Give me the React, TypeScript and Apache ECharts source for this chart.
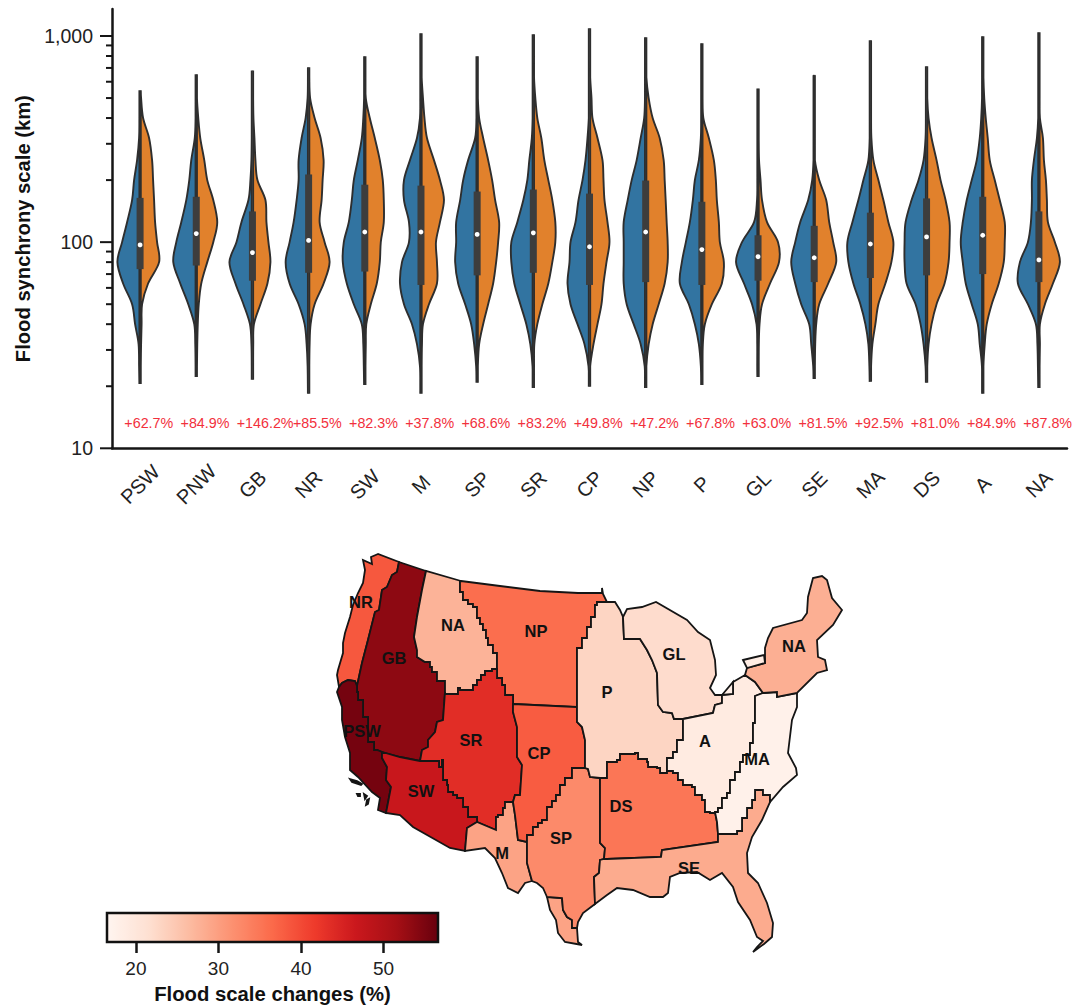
import React, { useEffect, useRef } from "react";
import * as echarts from "echarts";

const FONT = "'Liberation Sans', Arial, sans-serif";

// ---------- violin data ----------
const categories = ["PSW","PNW","GB","NR","SW","M","SP","SR","CP","NP","P","GL","SE","MA","DS","A","NA"];
const changes = ["+62.7%","+84.9%","+146.2%","+85.5%","+82.3%","+37.8%","+68.6%","+83.2%","+49.8%","+47.2%","+67.8%","+63.0%","+81.5%","+92.5%","+81.0%","+84.9%","+87.8%"];
const whiskerLow = [20.5,22.2,21.5,18.4,20.3,18.4,20.8,19.6,19.9,19.6,20.3,22.2,21.7,21,20.8,18.4,19.6];
const whiskerHigh = [545,652,681,705,797,1030,797,1019,1089,986,922,557,631,953,713,997,1042];
const q1 = [74,77,65,71,72,62,69,71,62,64,62,65,64,67,69,70,64];
const q3 = [164,166,141,213,190,188,176,180,172,199,157,108,120,139,163,166,141];
const medians = [97,110,89,102,112,112,109,111,95,112,92,85,84,98,106,108,82];
const densityLevels = [25,32,40,50,63,80,100,125,160,200,250,320,400,500,630,800];
const PSW_L=[1,1.5,5,8,17,22.7,18,13,8,6,3,1,0,0,0,0];
const PSW_R=[.5,1,1.5,2,8,19,17,15,14,13,12,9,3,1,0,0];
const PNW_L=[.5,1,2,8,16,23,20,15,10,7,5,1.5,.5,0,0,0];
const PNW_R=[.5,1,1.5,2.5,5,11,17,21,17,11,8,4,2,.5,0,0];
const GB_L=[.5,1,2.5,9,17,23,16,11,4,2,1,.5,0,0,0,0];
const GB_R=[.5,.8,1.5,8,15,18,16,14,13,5,3,2,1,.3,0,0];
const NR_L=[1,2,4,10,19,23,19,15,12,10,10,7,3,1,0,0];
const NR_R=[.5,1,2,6,15,21,16,11,13,14,15,12,6,1.5,0,0];
const SW_L=[1,1.5,3,11,18,22,21,16,13,11,7,3,1.5,.5,0,0];
const SW_R=[.5,1,1.5,6,12,15,16,19,19,18,15,10,5,1,.3,0];
const M_L=[1,4,9,17,21,19,12,12,17,17,11,4,1,.5,0,0];
const M_R=[.5,1,2,8,16,16,15,19,23,19,13,6,3.5,2,.5,0];
const SP_L=[1,3,6,12,19,22,21,21,17,14,9,2,.5,0,0,0];
const SP_R=[.5,2,6,11,16,19,21,22,18,15,11,6,2,.5,0,0];
const SR_L=[.8,3,7,13,19,22,22,16,10,6,4,1.5,.5,0,0,0];
const SR_R=[.5,1,4,9,15,19,22,22,19,15,11,8,4,2,.5,0];
const CP_L=[1,5,12,19,22,20,19,14,11,7,4,2,.7,.3,0,0];
const CP_R=[.5,4,8,12,14,17,20,18,15,14,13,8,3,2,.5,0];
const NP_L=[1,5,12,19,22,22,22,22,18,14,9,5,1.5,.5,0,0];
const NP_R=[.5,3,7,13,19,22,22,21,20,19,18,14,7,3,.7,0];
const P_L=[1,3,7,13,22,20,16,12,9,7,3,1,.5,0,0,0];
const P_R=[.5,1,3,10,20,22,18,17,15,14,12,7,1.5,.3,0,0];
const GL_L=[.8,.8,1.5,6,14,22,16,4,1,.5,.3,0,0,0,0,0];
const GL_R=[.5,.8,1.5,4,12,21,20,9,4,2.5,1,.3,0,0,0,0];
const SE_L=[1,3,5,13,19,23,19,14,6,2,.7,.3,0,0,0,0];
const SE_R=[.5,1,2,5,14,22,19,15,12,5,.7,.3,0,0,0,0];
const MA_L=[1,2,5,10,17,22,23,18,12,7,2,.7,.5,.5,0,0];
const MA_R=[.5,2,5,8,15,21,23,18,13,8,3,1,.5,0,0,0];
const DS_L=[1,3,6,11,20,22,22,21,15,8,3,1,.5,0,0,0];
const DS_R=[.5,2,5,10,18,22,23,23,19,14,10,5,2,.7,.3,0];
const A_L=[.8,3,5,11,17,20,22,20,16,11,6,3,1.5,.7,.3,0];
const A_R=[.5,2,4,9,16,21,22,22,17,12,7,5,3,1.5,.5,0];
const NA_L=[1,1.5,3,11,21,19,11,8,7,7,5,2,.7,.5,0,0];
const NA_R=[.5,1,1,6,14,21,16,9,8,7,5,4,1,.3,0,0];
const leftDensity = [PSW_L,PNW_L,GB_L,NR_L,SW_L,M_L,SP_L,SR_L,CP_L,NP_L,P_L,GL_L,SE_L,MA_L,DS_L,A_L,NA_L];
const rightDensity = [PSW_R,PNW_R,GB_R,NR_R,SW_R,M_R,SP_R,SR_R,CP_R,NP_R,P_R,GL_R,SE_R,MA_R,DS_R,A_R,NA_R];
const labelLevel = 13.3;
const majorTicks = [10,100,1000];
const minorTicks = [20,30,40,50,60,70,80,90,200,300,400,500,600,700,800,900];

// ---------- map data ----------
type Pt = number[];
const rev = (a: Pt[]) => [...a].reverse();
// county-grid borders are stepped: every digitised diagonal becomes one stair
const stair = (a: Pt[]) => a.flatMap((p, i) => (i === 0 ? [p] : [[p[0], a[i - 1][1]], p]));
const COAST_NR=[[378,554],[371,557],[372,564],[363,560],[365,570],[363,583],[358,593],[353,605],[350,617],[345,633],[343,643],[343,653],[338,670],[337,675],[339,687]];
const NR_PSW=[[339,687],[342,683],[348,680],[355,681],[357,686]];
const NR_GB=[[357,686],[362,663],[368,640],[375,612],[379,610],[382,590],[387,587],[392,575],[397,572],[399,562]];
const GB_NA=[[426,571],[422,590],[417,617],[414,637],[417,650],[417,657],...stair([[425,662],[430,667],[432,672],[437,675],[437,681],[445,692]])];
const GB_SR=[[445,692],[443,720],[437,722],[435,732],[428,740],[428,747],[422,750],[420,761]];
const GB_PSW=stair([[377,750],[374,742],[368,728],[368,717],[363,710],[363,700],[358,692],[357,686]]);
const PSW_COAST=[[339,687],[337,692],[342,707],[342,720],[345,737],[350,753],[350,770],[358,777],[372,792],[380,798],[378,810],[386,813]];
const PSW_SW=[[386,813],[391,787],[386,780],[387,767],[382,758],[382,752]];
const NA_NP=stair([[461,581],[460,592],[463,600],[468,604],[473,607],[477,618],[480,624],[483,630],[486,638],[488,645],[493,653],[497,665],[497,669]]);
const NA_SR=stair([[497,669],[492,671],[485,675],[481,680],[477,685],[473,690],[460,688],[458,694],[445,692]]);
const SR_NP=stair([[497,669],[497,678],[502,685],[505,695],[513,698],[513,704]]);
const NORTH_NP=[[461,581],[500,586],[540,591],[578,593],[602,593],[602,588],[603,594],[607,602]];
const NP_P=stair([[607,602],[597,605],[595,617],[591,627],[587,638],[582,648],[577,663],[577,707]]);
const SR_CP=[[513,704],[513,712],[517,727],[517,757],[522,765],[520,795],[515,795],[513,802]];
const SR_M=stair([[513,802],[505,808],[503,815],[498,817],[496,830]]);
const SW_SR=stair([[420,761],[439,767],[442,760],[443,780],[447,785],[448,792],[453,795],[457,798],[463,807],[468,817],[477,822]]);
const CP_M=[[513,802],[515,815],[518,840],[527,842]];
const M_SP=[[527,842],[527,863],[532,881]];
const M_COAST=[[532,881],[525,883],[518,893],[508,888],[502,873],[495,858],[485,848],[465,851]];
const CP_SP=stair([[585,768],[577,768],[572,778],[565,785],[560,795],[556,801],[552,807],[547,820],[542,823],[538,827],[533,835],[527,842]]);
const SP_DS=[[600,778],[600,843],[605,848],[604,859],[600,860]];
const SP_SE=[[600,860],[599,873],[594,877],[595,904]];
const SP_COAST=[[595,904],[583,913],[578,922],[577,928],[572,928],[572,920],[567,917],[563,910],[562,898],[547,897],[543,888],[537,883],[532,881]];
const P_GL=[[623,617],[624,639],[640,639],[647,650],[652,660],[657,673],[658,705],[663,712],[672,713],[674,719],[683,719]];
const P_A=stair([[683,719],[683,740],[677,752],[673,758],[667,771]]);
const DS_TOP=stair([[600,778],[607,762],[617,760],[620,754],[635,753],[638,759],[647,762],[648,767],[657,768],[660,773],[667,771]]);
const DS_A=stair([[667,771],[673,773],[678,780],[683,785],[692,787],[695,795],[702,800],[705,812],[710,813],[715,812]]);
const DS_MA=[[715,812],[717,822],[718,834]];
const SE_MA=stair([[718,834],[737,831],[742,818],[747,808],[752,800],[755,790],[763,795],[770,802]]);
const SE_COAST=[[770,802],[762,820],[752,837],[747,853],[748,873],[758,883],[767,903],[773,923],[772,937],[764,944],[753,952],[757,947],[763,941],[757,937],[750,920],[738,902],[733,887],[722,873],[710,880],[697,872],[680,873],[670,877],[668,893],[663,897],[650,897],[633,890],[617,888],[607,895],[595,904]];
const A_MA=stair([[715,812],[718,808],[722,798],[727,793],[730,780],[735,772],[740,762],[743,755],[750,743],[753,723],[755,717],[755,696]]);
const MA_COAST=[[797,693],[797,707],[792,720],[788,753],[796,768],[797,775],[783,787],[770,802]];

const NR_RING=[...COAST_NR,...NR_PSW,...NR_GB];
const GB_RING=[[399,562],...GB_NA,...GB_SR,[400,757],[382,752],...GB_PSW,...NR_GB];
const PSW_RING=[...NR_PSW,...rev(GB_PSW),...rev(PSW_SW),...rev(PSW_COAST)];
const NAW_RING=[...NA_NP,...NA_SR,...rev(GB_NA)];
const NP_RING=[...NORTH_NP,...NP_P,[513,704],...rev(SR_NP),...rev(NA_NP)];
const SR_RING=[...rev(NA_SR),...SR_NP,...SR_CP,...SR_M,...rev(SW_SR),...rev(GB_SR)];
const SW_RING=[[382,752],[400,757],...SW_SR,[467,828],[465,851],[450,848],[413,827],[400,815],...PSW_SW];
const M_RING=[[467,828],[477,822],...rev(SR_M),...CP_M,...M_SP,...M_COAST];
const MTIP_RING=[[547,897],[562,898],[563,910],[567,917],[572,920],[572,928],[577,928],[578,942],[582,945],[565,942],[558,933],[556,920],[550,910]];
const CP_RING=[[513,704],[577,707],[577,722],[582,727],[585,740],...CP_SP,...rev(CP_M),...rev(SR_CP)];
const SP_RING=[...rev(CP_SP),[588,769],[590,777],...SP_DS,...SP_SE,...SP_COAST,...rev(M_SP)];
const P_RING=[[607,602],[615,602],[620,610],...P_GL,...P_A,...rev(DS_TOP),[590,777],[588,769],[585,768],[585,740],[582,727],[577,722],...rev(NP_P)];
const GL_RING=[[623,617],[627,609],[642,607],[656,602],[687,620],[698,632],[710,640],[715,660],[716,675],[710,688],[715,695],[722,695],[722,703],[715,705],[713,713],...rev(P_GL)];
const DS_RING=[...DS_TOP,...DS_A,...DS_MA,[718,842],[662,850],[661,857],[607,859],[604,859],[605,848],[600,843]];
const SE_RING=[[600,860],[604,859],[607,859],[661,857],[662,850],[718,842],...SE_MA,...SE_COAST,...rev(SP_SE)];
const A_RING=[[683,719],[713,713],[715,705],[722,703],[722,695],[733,694],[733,682],[745,675],[755,682],[763,693],...rev(A_MA),...rev(DS_A),...rev(P_A)];
const MA_RING=[[763,693],[777,692],[777,697],...MA_COAST,...rev(SE_MA),...rev(DS_MA),...A_MA];
const NAE_RING=[[745,675],[755,682],[763,693],[777,692],[777,697],[797,693],[817,673],[827,670],[825,660],[818,657],[817,640],[833,625],[842,610],[832,598],[827,580],[822,576],[813,578],[808,597],[807,613],[802,620],[773,628],[768,638],[765,648],[765,663],[747,668]];
const LAKE_E=[[722,695],[733,682],[733,694]];
const LAKE_O=[[743,660],[764,655],[765,663],[747,668]];
const ISLE_1=[[350,779],[357,781],[362,784],[361,785],[352,782]];
const ISLE_2=[[357,794],[360,794],[360,796],[358,796]];
const ISLE_3=[[364,794],[367,796],[365,799]];
const ISLE_4=[[367,800],[369,799],[368,804],[366,805]];

const regionNames = ["NR","GB","PSW","NA_W","NP","SR","SW","M","M_tip","CP","SP","P","GL","DS","SE","A","MA","NA_E","Lake_E","Lake_O"];
const regionRings = [NR_RING,GB_RING,PSW_RING,NAW_RING,NP_RING,SR_RING,SW_RING,M_RING,MTIP_RING,CP_RING,SP_RING,P_RING,GL_RING,DS_RING,SE_RING,A_RING,MA_RING,NAE_RING,LAKE_E,LAKE_O];
const regionValues = [38.5,53.5,55.5,27.5,36,43.5,47,29.5,29.5,38,32.5,23,22,35,28.5,19,17.5,28,18,18.5];
const regionLabelAt = [[361,602],[394,658],[362,731],[453,625],[536,631],[471,740],[421,791],[502,853],null,[539,753],[561,838],[607,692],[674,654],[621,806],[689,868],[705,741],[757,759],[794,646],null,null];
const isles = [ISLE_1,ISLE_2,ISLE_3,ISLE_4];
const colorStops = ["#fff5f0","#fee0d2","#fcbba1","#fc9272","#fb6a4a","#ef3b2c","#cb181d","#a50f15","#67000d"];
const colorTicks = [20,30,40,50];

function curve(pts: number[][]) {
  let d = `M${pts[0][0]} ${pts[0][1]}`;
  for (let i = 0; i < pts.length - 1; i++) {
    const p0 = pts[Math.max(0, i - 1)], p1 = pts[i], p2 = pts[i + 1], p3 = pts[Math.min(pts.length - 1, i + 2)];
    d += `C${p1[0] + (p2[0] - p0[0]) / 6} ${p1[1] + (p2[1] - p0[1]) / 6} ${p2[0] - (p3[0] - p1[0]) / 6} ${p2[1] - (p3[1] - p1[1]) / 6} ${p2[0]} ${p2[1]}`;
  }
  return d + "Z";
}

function halfViolin(api: any, i: number, dens: number[], sign: number, scale: number) {
  const cx = api.coord([i, 100])[0];
  const y = (v: number) => api.coord([i, v])[1];
  const pts: number[][] = [[cx + sign * 0.7, y(whiskerLow[i])]];
  densityLevels.forEach((lv, k) => {
    if (lv > whiskerLow[i] && lv < whiskerHigh[i]) pts.push([cx + sign * Math.max(dens[k], 0.7) * scale, y(lv)]);
  });
  pts.push([cx + sign * 0.7, y(whiskerHigh[i])]);
  return curve(pts);
}

const yTop = 1352;

export default function App() {
  const ref = useRef<HTMLDivElement>(null);
  useEffect(() => {
    const features: any[] = regionNames.map((name, i) => ({
      type: "Feature",
      properties: { name, ...(regionLabelAt[i] ? { cp: [regionLabelAt[i]![0], -regionLabelAt[i]![1]] } : {}) },
      geometry: { type: "Polygon", coordinates: [regionRings[i].map((p) => [p[0], -p[1]])] },
    }));
    isles.forEach((r, i) =>
      features.push({
        type: "Feature",
        properties: { name: `Isle_${i}` },
        geometry: { type: "Polygon", coordinates: [r.map((p) => [p[0], -p[1]])] },
      })
    );
    echarts.registerMap("floodRegions", { type: "FeatureCollection", features } as any);
    const all = [...regionRings, ...isles].flat();
    const xs = all.map((p) => p[0]);
    const ys = all.map((p) => p[1]);
    const minX = Math.min(...xs), maxX = Math.max(...xs), minY = Math.min(...ys), maxY = Math.max(...ys);

    const chart = echarts.init(ref.current!, undefined, { renderer: "svg" });
    const ink = "#151515";
    chart.setOption({
      animation: false,
      backgroundColor: "#fff",
      textStyle: { fontFamily: FONT },
      grid: [
        { left: 112, right: 20, top: 9, bottom: 556.7 },
        { left: 107, width: 331, top: 942, height: 1 },
      ],
      xAxis: [
        {
          type: "category",
          gridIndex: 0,
          data: categories,
          axisLine: { lineStyle: { color: ink, width: 2.5 } },
          axisTick: { alignWithLabel: true, length: 12.5, lineStyle: { color: ink, width: 2.2 } },
          axisLabel: { rotate: 45, interval: 0, align: "center", verticalAlign: "middle", margin: 36, fontSize: 20, color: "#222", fontFamily: FONT },
        },
        {
          type: "value",
          gridIndex: 1,
          min: 16.5,
          max: 56.6,
          position: "bottom",
          splitLine: { show: false },
          axisLine: { show: false },
          axisTick: { length: 10, customValues: colorTicks, lineStyle: { color: ink, width: 2.5 } },
          axisLabel: { customValues: colorTicks, fontSize: 19, color: "#222", margin: 16, fontFamily: FONT },
          name: "Flood scale changes (%)",
          nameLocation: "middle",
          nameGap: 41,
          nameTextStyle: { fontSize: 20.3, fontWeight: "bold", color: "#111", fontFamily: FONT },
        },
      ],
      yAxis: [
        {
          type: "log",
          gridIndex: 0,
          min: 10,
          max: yTop,
          splitLine: { show: false },
          minorTick: { show: false },
          axisLine: { show: true, onZero: false, lineStyle: { color: ink, width: 2.5 } },
          axisTick: { show: false },
          axisLabel: {
            margin: 19,
            fontSize: 19.5,
            color: "#222",
            fontFamily: FONT,
            formatter: (v: number) => (majorTicks.some((m) => Math.abs(m - v) < 1e-6 * m) ? Math.round(v).toLocaleString("en-US") : ""),
          },
          name: "Flood synchrony scale (km)",
          nameLocation: "middle",
          nameGap: 79,
          nameTextStyle: { fontSize: 20.2, fontWeight: "bold", color: "#111", fontFamily: FONT },
        },
        { type: "value", gridIndex: 1, show: false, min: 0, max: 1 },
      ],
      visualMap: {
        type: "continuous",
        seriesIndex: 2,
        min: 16.5,
        max: 56.6,
        orient: "horizontal",
        left: 107,
        top: 913,
        itemWidth: 29,
        itemHeight: 331,
        padding: 0,
        borderWidth: 0,
        calculable: false,
        showLabel: false,
        text: null,
        hoverLink: false,
        inRange: { color: colorStops },
      },
      graphic: [
        { type: "rect", z: 100, x: 107, y: 913, shape: { x: 0, y: 0, width: 331, height: 29 }, style: { fill: "none", stroke: "#111", lineWidth: 2.5 } },
      ],
      series: [
        {
          type: "custom",
          name: "ticks",
          coordinateSystem: "cartesian2d",
          xAxisIndex: 0,
          yAxisIndex: 0,
          data: [...majorTicks.map((v) => [0, v, 12]), ...minorTicks.map((v) => [0, v, 6])],
          encode: { x: 0, y: 1 },
          clip: false,
          silent: true,
          renderItem: (params: any, api: any) => {
            const y = api.coord([0, api.value(1)])[1];
            const x0 = params.coordSys.x;
            return { type: "line", shape: { x1: x0 - api.value(2), y1: y, x2: x0, y2: y }, style: { stroke: ink, lineWidth: 2 } };
          },
        },
        {
          type: "custom",
          name: "violins",
          coordinateSystem: "cartesian2d",
          xAxisIndex: 0,
          yAxisIndex: 0,
          data: categories.map((_, i) => [i, medians[i]]),
          encode: { x: 0, y: 1 },
          clip: false,
          silent: true,
          renderItem: (_: any, api: any) => {
            const i = api.value(0);
            const band = api.size([1, 0])[0];
            const scale = band / 56.2;
            const c = api.coord([i, medians[i]]);
            const q1y = api.coord([i, q1[i]])[1];
            const q3y = api.coord([i, q3[i]])[1];
            const edge = { stroke: "#2e2e2e", lineWidth: 1.9 };
            return {
              type: "group",
              children: [
                { type: "path", shape: { pathData: halfViolin(api, i, leftDensity[i], -1, scale) }, style: { fill: "#3274a1", ...edge } },
                { type: "path", shape: { pathData: halfViolin(api, i, rightDensity[i], 1, scale) }, style: { fill: "#e1812c", ...edge } },
                { type: "rect", shape: { x: c[0] - 3.5, y: q3y, width: 7, height: q1y - q3y }, style: { fill: "#3d3d3d" } },
                { type: "circle", shape: { cx: c[0], cy: c[1], r: 2.4 }, style: { fill: "#fff" } },
                {
                  type: "text",
                  x: c[0] - band * 0.28,
                  y: api.coord([i, labelLevel])[1],
                  style: { text: changes[i], fill: "#f2303c", font: `14.3px ${FONT}`, align: "left", verticalAlign: "middle" },
                },
              ],
            };
          },
        },
        {
          type: "map",
          map: "floodRegions",
          aspectScale: 1,
          left: minX,
          top: minY,
          width: maxX - minX,
          height: maxY - minY,
          roam: false,
          silent: true,
          data: regionNames.map((name, i) => ({ name, value: regionValues[i] })),
          itemStyle: { areaColor: "#111", borderColor: "#151515", borderWidth: 1.8 },
          emphasis: { disabled: true },
          select: { disabled: true },
          label: {
            show: true,
            fontSize: 16.5,
            fontWeight: "bold",
            color: "#111",
            fontFamily: FONT,
            formatter: (p: any) => {
              const k = regionNames.indexOf(p.name);
              return k >= 0 && regionLabelAt[k] ? p.name.split("_")[0] : "";
            },
          },
        },
      ],
    });
    return () => chart.dispose();
  }, []);
  return <div ref={ref} style={{ position: "fixed", left: 0, top: 0, width: 1087, height: 1005 }} />;
}
